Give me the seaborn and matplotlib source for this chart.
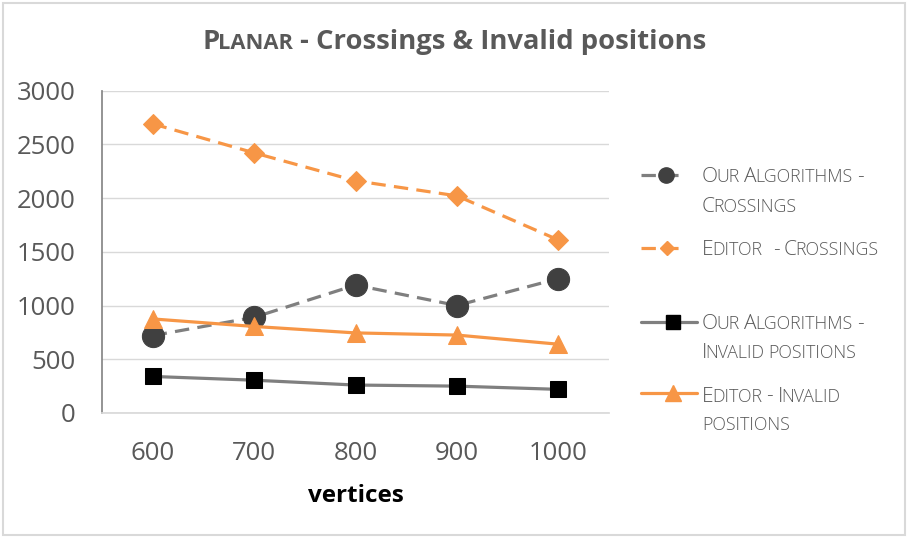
import numpy as np
import matplotlib.pyplot as plt
import pandas as pd
import seaborn as sns
from matplotlib.lines import Line2D
from matplotlib.patches import Rectangle

# data
vertices = [600, 700, 800, 900, 1000]
our_crossings = [720, 890, 1190, 1000, 1250]
editor_crossings = [2690, 2420, 2160, 2020, 1610]
our_invalid = [340, 305, 260, 250, 220]
editor_invalid = [875, 805, 745, 725, 640]
yticks = [0, 500, 1000, 1500, 2000, 2500, 3000]

ORANGE = '#f79646'
GRAY = '#7f7f7f'
TXT = '#595959'

sns.set_theme(style='white')
plt.rcParams['font.family'] = ['Open Sans', 'DejaVu Sans']

W, H = 908, 539
fig = plt.figure(figsize=(W / 100, H / 100), dpi=100)
ax = fig.add_axes([102 / W, (H - 413) / H, 507 / W, 322.5 / H])

dash = (0, (4.5, 2.6))
sns.lineplot(x=vertices, y=our_crossings, ax=ax, color=GRAY, lw=2.3, linestyle=dash,
             marker='o', markersize=16, markerfacecolor='#404040', markeredgecolor='#404040')
sns.lineplot(x=vertices, y=editor_crossings, ax=ax, color=ORANGE, lw=2.3, linestyle=dash,
             marker='D', markersize=10.5, markerfacecolor=ORANGE, markeredgecolor=ORANGE)
sns.lineplot(x=vertices, y=our_invalid, ax=ax, color=GRAY, lw=2.3,
             marker='s', markersize=11.5, markerfacecolor='black', markeredgecolor='black')
sns.lineplot(x=vertices, y=editor_invalid, ax=ax, color=ORANGE, lw=2.3,
             marker='^', markersize=12.5, markerfacecolor=ORANGE, markeredgecolor=ORANGE)

ax.set_xlim(550, 1050)
ax.set_ylim(0, 3000)
ax.set_xticks(vertices)
ax.set_xticklabels([str(v) for v in vertices])
ax.set_yticks(yticks)
ax.yaxis.grid(True, color='#d9d9d9', lw=1)
ax.tick_params(axis='y', length=0, pad=19, labelsize=18.5, labelcolor=TXT)
ax.tick_params(axis='x', length=0, pad=20, labelsize=18.5, labelcolor=TXT)
ax.set_xlabel('vertices', fontsize=17.5, fontweight='bold', color='black', labelpad=13)
for s in ['top', 'right']:
    ax.spines[s].set_visible(False)
ax.spines['left'].set_color('#868686')
ax.spines['bottom'].set_color('#d9d9d9')


def chain(pieces, x, y, color, weight='normal', gap=-1.2):
    # pieces: (text, fontsize, spaces before); y is the baseline in figure pixels
    prev = None
    out = []
    for s, fs, sp in pieces:
        if prev is None:
            prev = fig.text(x / W, 1 - y / H, s, fontsize=fs, color=color,
                            fontweight=weight, va='baseline', ha='left')
        else:
            prev = ax.annotate(s, xy=(1, 1 - y / H), xycoords=(prev, 'figure fraction'),
                               xytext=(sp * 0.3 * fs + gap, 0), textcoords='offset points',
                               fontsize=fs, color=color, fontweight=weight,
                               va='baseline', ha='left', annotation_clip=False)
        out.append(prev)
    return out


def smallcaps(text, fs, ratio=0.85):
    runs = []
    spaces = 0
    for ch in text:
        if ch == ' ':
            spaces += 1
            continue
        small = ch.islower()
        if runs and spaces == 0 and runs[-1][3] == small:
            runs[-1][0] += ch.upper()
        else:
            runs.append([ch.upper(), fs * ratio if small else fs, spaces, small])
        spaces = 0
    return [(r[0], r[1], r[2]) for r in runs]


# title
tfs = 19.7
title = chain([('P', tfs, 0), ('LANAR', tfs * 0.8, 0),
               ('- Crossings & Invalid positions', tfs, 1)],
              200, 49, TXT, weight='bold', gap=-1.0)

# legend
lfs = 15
legend_rows = [
    ('Our Algorithms -', 182.5), ('Crossings', 212.5),
    ('Editor  - Crossings', 255),
    ('Our Algorithms -', 329), ('Invalid positions', 357.5),
    ('Editor - Invalid', 401.5), ('positions', 430),
]
for text, base in legend_rows:
    chain(smallcaps(text, lfs), 702, base, TXT, weight='light')

handles = [
    (641, 684, 175, GRAY, dash, 'o', 11, '#404040'),
    (641, 685, 248, ORANGE, dash, 'D', 7.5, ORANGE),
    (641, 697, 322, GRAY, '-', 's', 10.5, 'black'),
    (641, 697, 393, ORANGE, '-', '^', 11, ORANGE),
]
for x0, x1, yy, c, ls, m, ms, mc in handles:
    fig.add_artist(Line2D([x0 / W, x1 / W], [1 - yy / H] * 2, color=c, lw=2.3,
                          linestyle=ls, transform=fig.transFigure))
    fig.add_artist(Line2D([(x0 + x1) / 2 / W + 0.004], [1 - yy / H], marker=m, ms=ms,
                          color=mc, markeredgecolor=mc, linestyle='none',
                          transform=fig.transFigure))

fig.add_artist(Rectangle((3 / W, 4 / H), 902 / W, 532 / H, fill=False,
                         edgecolor='#d9d9d9', lw=1.5, transform=fig.transFigure))

# center the title on the figure
fig.canvas.draw()
r = fig.canvas.get_renderer()
left = title[0].get_window_extent(r).x0
right = title[-1].get_window_extent(r).x1
shift = (W / 2 - (left + right) / 2) / W
title[0].set_x(title[0].get_position()[0] + shift)

fig.savefig('out.png', dpi=100)
